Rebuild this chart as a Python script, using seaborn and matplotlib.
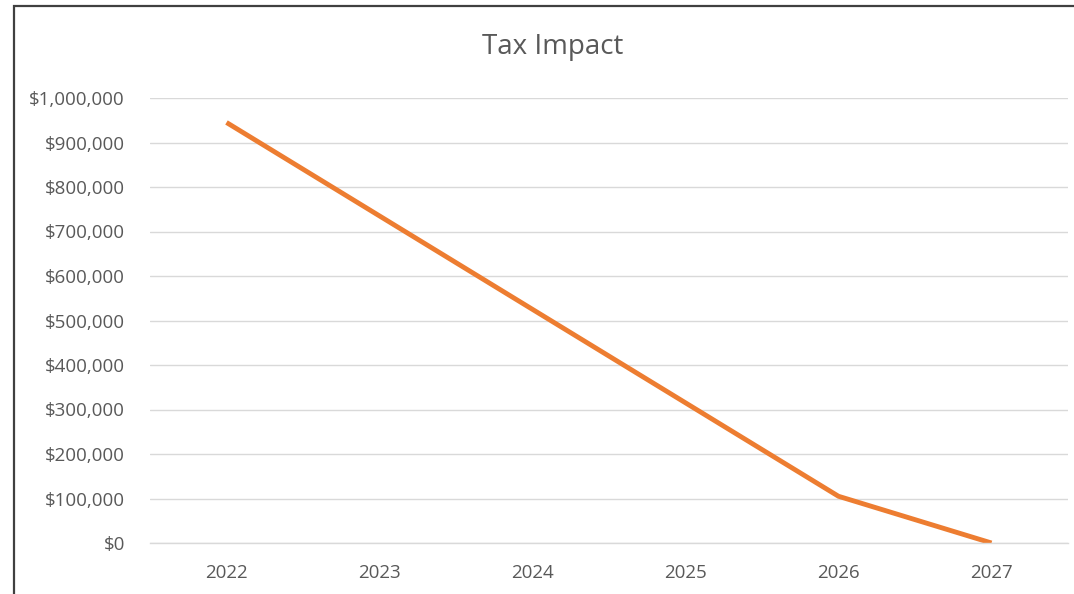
import matplotlib
matplotlib.use("Agg")
import matplotlib.pyplot as plt
import matplotlib.ticker as mticker
from matplotlib.patches import Rectangle
import seaborn as sns
import pandas as pd

years = ["2022", "2023", "2024", "2025", "2026", "2027"]
tax_impact = [945000, 735000, 525000, 315000, 105000, 0]
title = "Tax Impact"

sns.set_theme(style="white")
plt.rcParams['font.family'] = ['Open Sans', 'DejaVu Sans']

df = pd.DataFrame({"year": years, "value": tax_impact})
df["pos"] = range(len(years))

fig = plt.figure(figsize=(10.74, 5.94), dpi=100)
ax = fig.add_axes([150/1074, 1-543/594, (1068-150)/1074, (543-98)/594])

sns.lineplot(data=df, x="pos", y="value", ax=ax, color="#ED7D31", linewidth=3.5,
             solid_capstyle="butt")

ax.set_xlim(-0.5, len(years) - 0.5)
ax.set_ylim(0, 1000000)
ax.set_xticks(range(len(years)))
ax.set_xticklabels(years)
ax.set_yticks(range(0, 1000001, 100000))
ax.yaxis.set_major_formatter(mticker.FuncFormatter(lambda v, p: f"${v:,.0f}"))
ax.grid(axis="y", color="#d9d9d9", linewidth=1)
ax.set_axisbelow(True)
for s in ["top", "right", "left"]:
    ax.spines[s].set_visible(False)
ax.spines["bottom"].set_color("#d9d9d9")
ax.spines["bottom"].set_linewidth(1)
ax.tick_params(axis="both", length=0, labelsize=13.5, labelcolor="#595959")
ax.tick_params(axis="y", pad=18)
ax.tick_params(axis="x", pad=15)
ax.set_xlabel("")
ax.set_ylabel("")

fig.text(553/1074, 1-47/594, title, ha="center", va="center", fontsize=20, color="#595959")

fig.patches.append(Rectangle((14/1074, -0.1), 1.2, 1-6/594+0.1, transform=fig.transFigure,
                             fill=False, edgecolor="#404040", linewidth=1.6, zorder=10))

fig.savefig("out.png", dpi=100)
